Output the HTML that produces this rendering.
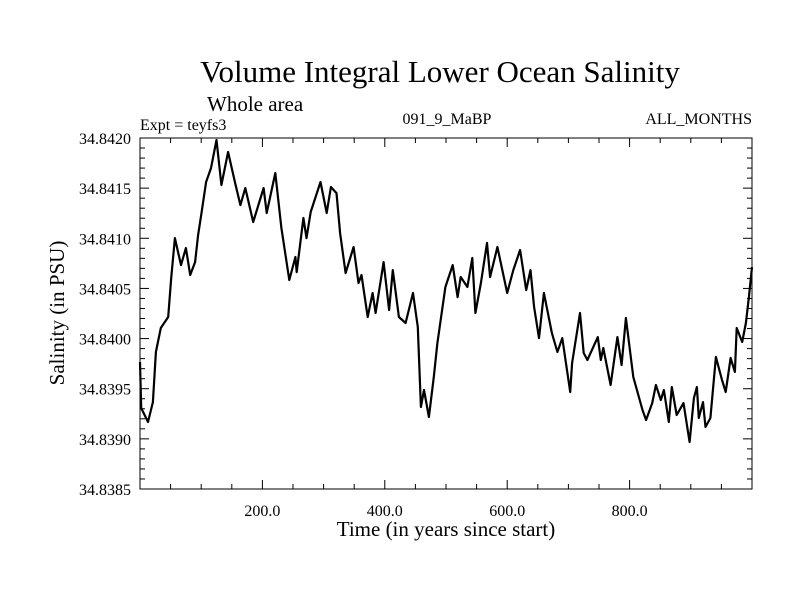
<!DOCTYPE html>
<html><head><meta charset="utf-8"><style>
body{margin:0;background:#fff;}
svg{display:block;font-family:"Liberation Serif",serif;}
</style></head><body>
<svg id="chart" width="800" height="600">
<rect width="800" height="600" fill="#fff"/>
<text x="440" y="82" font-size="31" text-anchor="middle">Volume Integral Lower Ocean Salinity</text>
<text x="207" y="111" font-size="21">Whole area</text>
<text x="140" y="130" font-size="16">Expt = teyfs3</text>
<text x="447" y="124" font-size="16" text-anchor="middle">091_9_MaBP</text>
<text x="752" y="124" font-size="16" text-anchor="end">ALL_MONTHS</text>
<text x="446" y="536" font-size="21" text-anchor="middle">Time (in years since start)</text>
<text transform="translate(64,313) rotate(-90)" font-size="21" text-anchor="middle">Salinity (in PSU)</text>
<g id="axes"></g>
<path id="series" fill="none" stroke="#000" stroke-width="2.2" stroke-linejoin="round"/>
<rect x="140" y="138" width="612" height="351" fill="none" stroke="#000" stroke-width="1"/>
</svg>
<script>
const years=[0,2,13,21,26,34,46,51,57,67,75,82,90,95,100,108,116,125,133,144,155,164,172,185,202,207,221,231,244,254,256,267,272,279,295,305,312,321,327,336,349,357,362,372,380,385,398,407,413,423,434,446,454,459,464,472,480,486,499,511,519,524,535,543,548,557,567,572,584,600,610,621,631,638,644,652,660,673,682,690,703,706,719,725,731,748,753,757,769,780,787,794,806,821,827,837,843,851,856,864,869,877,888,898,905,910,913,920,924,932,941,951,957,965,972,975,984,990,995,1000];
const salinity=[34.839766,34.839308,34.839168,34.839367,34.839866,34.840105,34.840215,34.840604,34.841002,34.840733,34.840903,34.840634,34.840763,34.841032,34.841232,34.841561,34.8417,34.84198,34.841531,34.84186,34.841561,34.841331,34.841501,34.841162,34.841501,34.841252,34.841651,34.841102,34.840584,34.840813,34.840663,34.841202,34.841002,34.841262,34.841561,34.841252,34.841511,34.841451,34.841052,34.840654,34.840913,34.840554,34.840634,34.840215,34.840454,34.840255,34.840763,34.840285,34.840683,34.840215,34.840155,34.840454,34.840115,34.839318,34.839487,34.839218,34.839617,34.839956,34.840514,34.840733,34.840414,34.840614,34.840514,34.840803,34.840255,34.840554,34.840953,34.840614,34.840913,34.840454,34.840683,34.840883,34.840484,34.840683,34.840315,34.840005,34.840454,34.840055,34.839866,34.840005,34.839467,34.839756,34.840255,34.839856,34.839786,34.840015,34.839786,34.839906,34.839537,34.840015,34.839736,34.840205,34.839617,34.839288,34.839188,34.839357,34.839537,34.839387,34.839487,34.839168,34.839517,34.839238,34.839357,34.838969,34.839407,34.839517,34.839208,34.839367,34.839118,34.839208,34.839816,34.839587,34.839467,34.839806,34.839667,34.840105,34.839966,34.840155,34.840414,34.840713];
const xTicks=[200,400,600,800];
const xTickLabels=["200.0","400.0","600.0","800.0"];
const yTicks=[34.8385,34.839,34.8395,34.84,34.8405,34.841,34.8415,34.842];
const yTickLabels=["34.8385","34.8390","34.8395","34.8400","34.8405","34.8410","34.8415","34.8420"];
const X0=140,X1=752,Y0=489,Y1=138,XMIN=0,XMAX=1000,YMIN=34.8385,YMAX=34.842;
const sx=v=>X0+(v-XMIN)/(XMAX-XMIN)*(X1-X0);
const sy=v=>Y0-(v-YMIN)/(YMAX-YMIN)*(Y0-Y1);
const NS="http://www.w3.org/2000/svg";
const g=document.getElementById('axes');
function line(x1,y1,x2,y2,name){const l=document.createElementNS(NS,'line');l.setAttribute('x1',x1);l.setAttribute('y1',y1);l.setAttribute('x2',x2);l.setAttribute('y2',y2);l.setAttribute('stroke','#000');l.setAttribute('stroke-width','1');


g.appendChild(l);}
function text(x,y,s,anchor,name){const t=document.createElementNS(NS,'text');t.setAttribute('x',x);t.setAttribute('y',y);t.setAttribute('font-size','16');t.setAttribute('text-anchor',anchor);t.textContent=s;


g.appendChild(t);}
for(let v=50;v<XMAX;v+=50){const major=v%200===0;const x=sx(v);line(x,Y0,x,Y0-(major?9:5),major?'x-major-tick':'x-minor-tick');line(x,Y1,x,Y1+(major?9:5),'x-top-tick');}
xTicks.forEach((v,i)=>text(sx(v),516,xTickLabels[i],'middle','x-tick-label'));
for(let k=0;k<=35;k++){const v=YMIN+k*0.0001;const major=k%5===0;const y=sy(v);line(X0,y,X0+(major?9:5),y,major?'y-major-tick':'y-minor-tick');line(X1,y,X1-(major?9:5),y,'y-right-tick');}
yTicks.forEach((v,i)=>text(131,sy(v)+6,yTickLabels[i],'end','y-tick-label'));
document.getElementById('series').setAttribute('d',years.map((t,i)=>(i?'L':'M')+sx(t).toFixed(1)+','+sy(salinity[i]).toFixed(1)).join(''));
</script>
</body></html>
